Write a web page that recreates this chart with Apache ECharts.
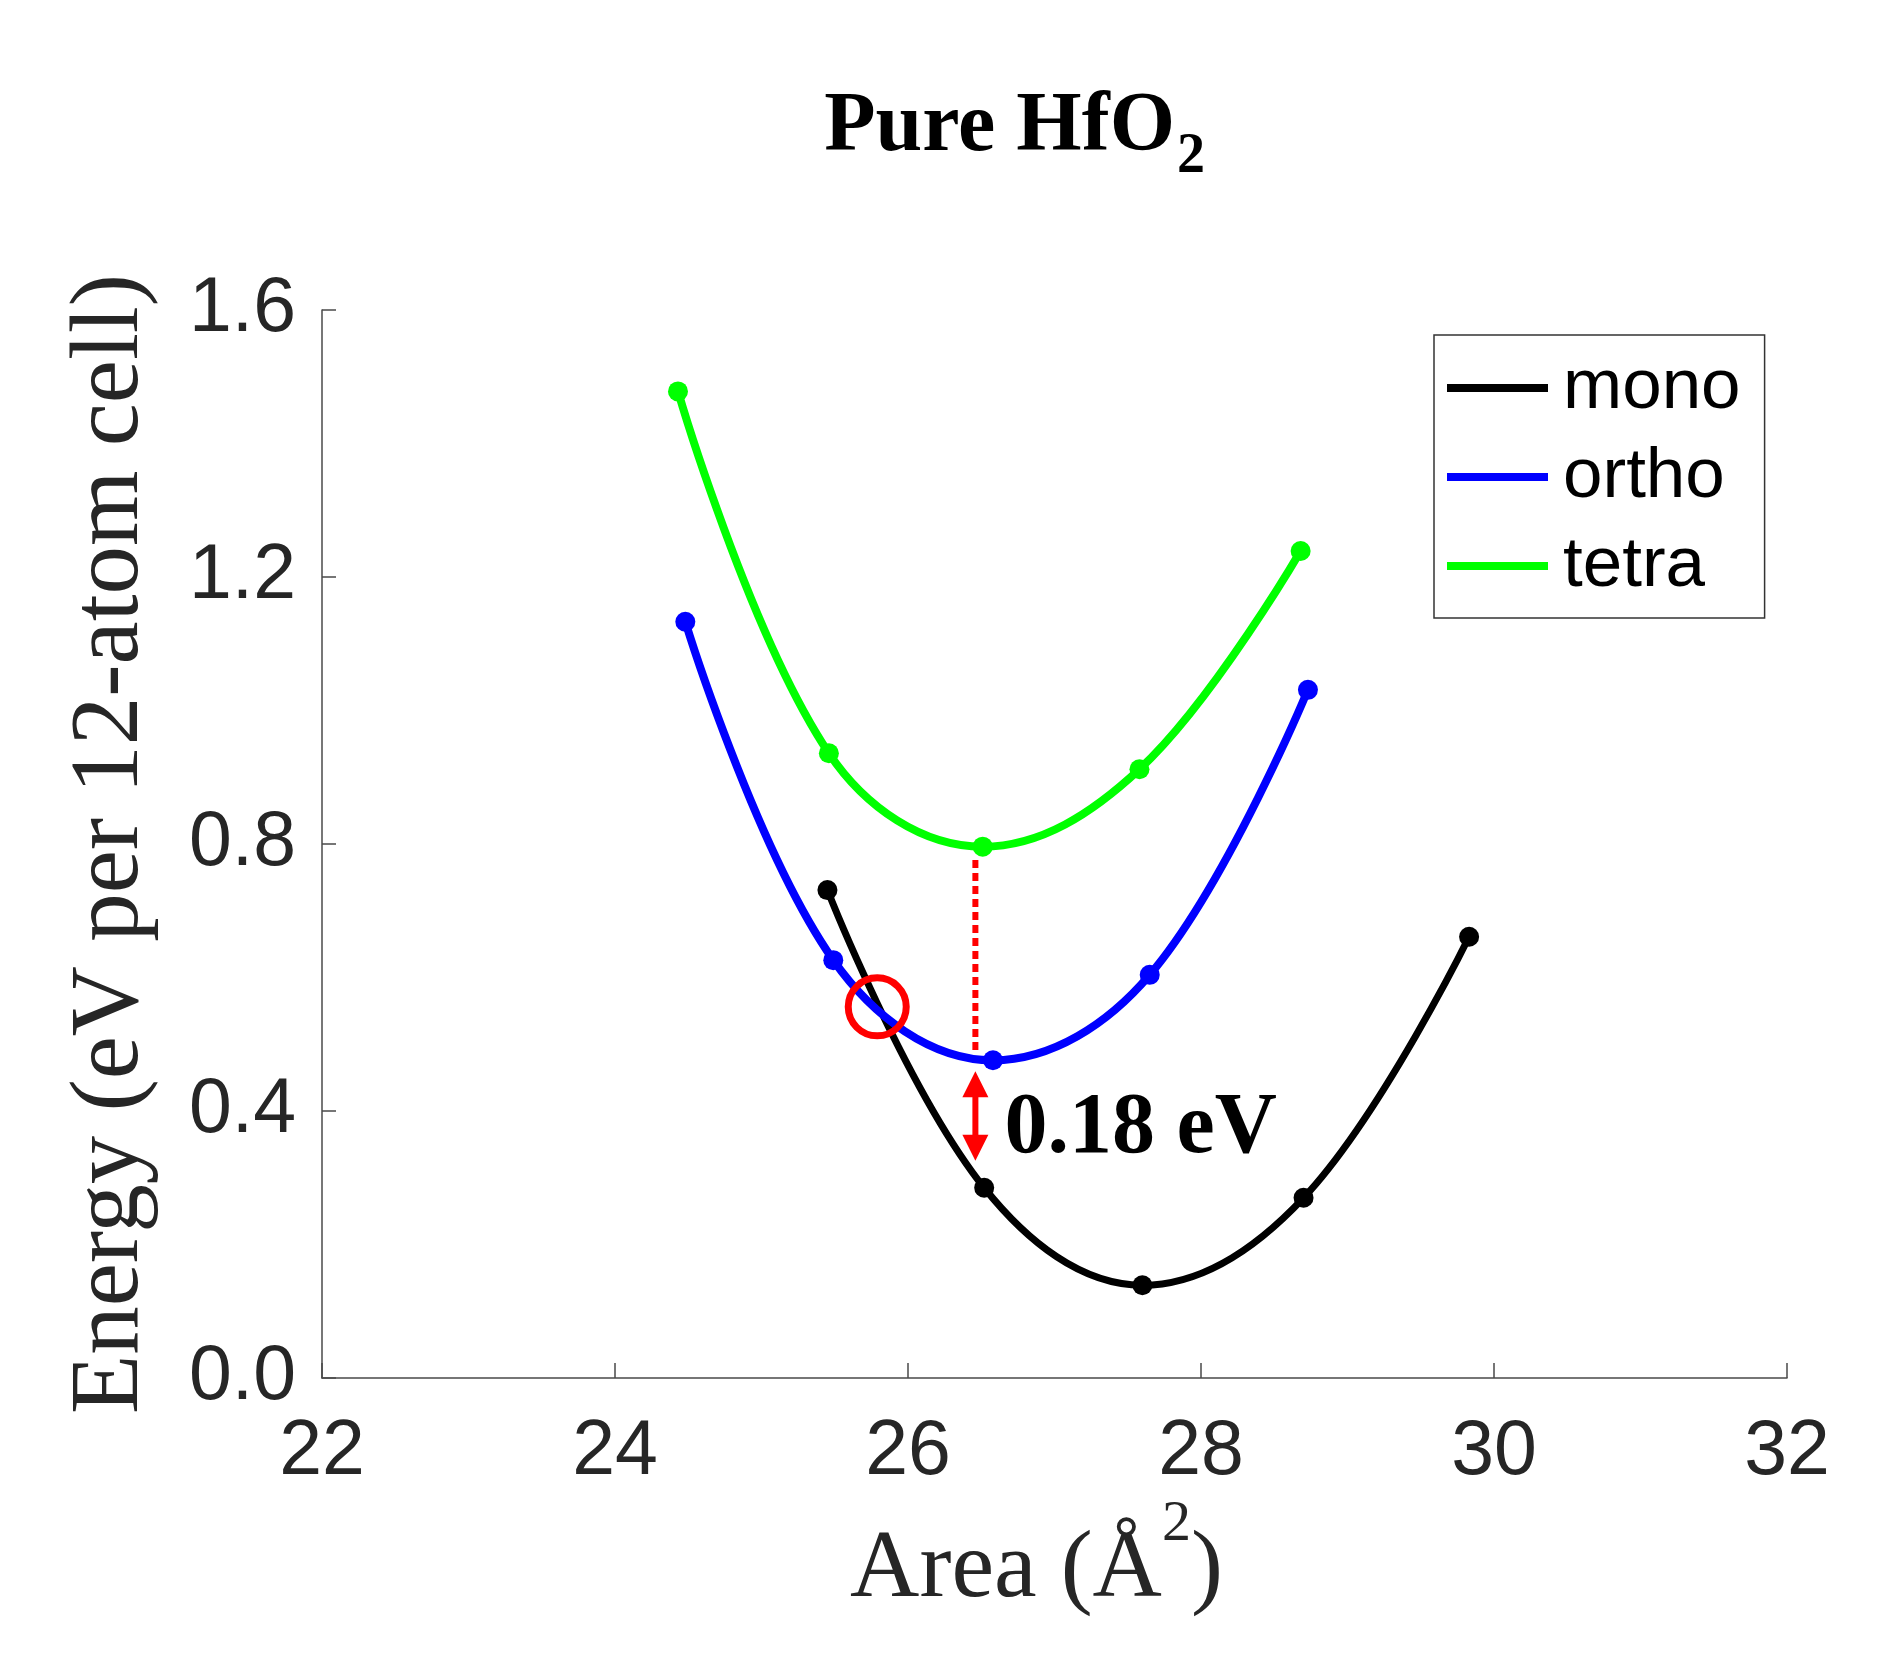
<!DOCTYPE html>
<html>
<head>
<meta charset="utf-8">
<title>Pure HfO2</title>
<script src="https://cdn.jsdelivr.net/npm/echarts@6/dist/echarts.min.js"></script>
<style>
html, body { margin: 0; padding: 0; background: #fff; }
#chart { width: 1896px; height: 1657px; }
</style>
</head>
<body>
<div id="chart"></div>
<script>
// area (A^2) vs energy (eV per 12-atom cell)
var monoArea = [25.45, 26.52, 27.60, 28.70, 29.83];
var monoEnergy = [0.731, 0.285, 0.139, 0.270, 0.661];
var orthoArea = [24.48, 25.49, 26.58, 27.65, 28.73];
var orthoEnergy = [1.133, 0.626, 0.476, 0.604, 1.031];
var tetraArea = [24.43, 25.46, 26.51, 27.58, 28.68];
var tetraEnergy = [1.478, 0.936, 0.796, 0.912, 1.239];

var xTicks = [22, 24, 26, 28, 30, 32];
var yTicks = [0, 0.4, 0.8, 1.2, 1.6];

// annotations
var crossing = [25.79, 0.556];
var gapX = 26.46;
var dottedEnergy = [0.776, 0.491];
var arrowEnergy = [0.440, 0.345];
var gapText = '0.18 eV';
var gapTextAt = [26.655, 0.372];

function pairs(xs, ys) {
  return xs.map(function (x, i) { return [x, ys[i]]; });
}

function curve(name, xs, ys, color, width) {
  return {
    name: name,
    type: 'line',
    data: pairs(xs, ys),
    smooth: 0.38,
    symbol: 'circle',
    symbolSize: 20,
    showAllSymbol: true,
    itemStyle: { color: color },
    lineStyle: { color: color, width: width }
  };
}

var axisGrey = '#4a4a4a';
var textGrey = '#262626';

var myChart = echarts.init(document.getElementById('chart'));

var option = {
  backgroundColor: '#ffffff',
  animation: false,
  graphic: [
    {
      type: 'text', x: 1175, y: 128,
      style: { text: 'Pure HfO', font: 'bold 84px "Liberation Serif"', fill: '#000', align: 'right', verticalAlign: 'middle' }
    },
    {
      type: 'text', x: 1177, y: 158,
      style: { text: '2', font: 'bold 56px "Liberation Serif"', fill: '#000', align: 'left', verticalAlign: 'middle' }
    }
  ],
  legend: {
    data: ['mono', 'ortho', 'tetra'],
    orient: 'vertical',
    left: 1434,
    top: 335,
    padding: [15, 24, 14, 13],
    borderColor: '#333',
    borderWidth: 1.5,
    icon: 'rect',
    itemWidth: 101,
    itemHeight: 8,
    itemGap: 13,
    textStyle: { fontFamily: 'Liberation Sans', fontSize: 71, lineHeight: 70, color: '#000', padding: [6, 0, 0, 10] }
  },
  grid: { left: 322, right: 109, top: 310, bottom: 279, containLabel: false },
  xAxis: {
    type: 'value',
    min: xTicks[0],
    max: xTicks[xTicks.length - 1],
    interval: xTicks[1] - xTicks[0],
    name: '{a|Area (Å}{s|2}{a|)}',
    nameLocation: 'middle',
    nameGap: 116,
    nameTextStyle: {
      padding: [0, 36, 0, 0],
      rich: {
        a: { fontFamily: 'Liberation Serif', fontSize: 96, lineHeight: 150, color: textGrey },
        s: { fontFamily: 'Liberation Serif', fontSize: 58, lineHeight: 58, verticalAlign: 'top', color: textGrey }
      }
    },
    axisLine: { show: true, onZero: false, lineStyle: { color: axisGrey, width: 1.5 } },
    axisTick: { show: true, inside: true, length: 15, lineStyle: { color: axisGrey, width: 1.5 } },
    axisLabel: { fontFamily: 'Liberation Sans', fontSize: 77, color: textGrey, margin: 36, showMinLabel: true, showMaxLabel: true },
    splitLine: { show: false }
  },
  yAxis: {
    type: 'value',
    min: yTicks[0],
    max: yTicks[yTicks.length - 1],
    interval: yTicks[1] - yTicks[0],
    name: 'Energy (eV per 12-atom cell)',
    nameLocation: 'middle',
    nameGap: 162,
    nameTextStyle: { fontFamily: 'Liberation Serif', fontSize: 97, color: textGrey },
    axisLine: { show: true, onZero: false, lineStyle: { color: axisGrey, width: 1.5 } },
    axisTick: { show: true, inside: true, length: 14, lineStyle: { color: axisGrey, width: 1.5 } },
    axisLabel: {
      fontFamily: 'Liberation Sans', fontSize: 77, color: textGrey, margin: 26,
      showMinLabel: true, showMaxLabel: true,
      formatter: function (v) { return v.toFixed(1); }
    },
    splitLine: { show: false }
  },
  series: [
    curve('mono', monoArea, monoEnergy, '#000000', 7),
    curve('ortho', orthoArea, orthoEnergy, '#0000ff', 8),
    curve('tetra', tetraArea, tetraEnergy, '#00ff00', 8),
    {
      name: 'gapDotted',
      type: 'line',
      data: [[gapX, dottedEnergy[0]], [gapX, dottedEnergy[1]]],
      symbol: 'none',
      lineStyle: { color: '#ff0000', width: 6, type: [8, 5] },
      z: 4
    },
    {
      name: 'gapArrow',
      type: 'line',
      data: [
        { value: [gapX, arrowEnergy[0]], symbolRotate: 0 },
        { value: [gapX, arrowEnergy[1]], symbolRotate: 180 }
      ],
      symbol: 'triangle',
      symbolSize: [26, 26],
      itemStyle: { color: '#ff0000' },
      lineStyle: { color: '#ff0000', width: 6 },
      z: 4
    },
    {
      name: 'crossing',
      type: 'scatter',
      data: [crossing],
      symbol: 'circle',
      symbolSize: 58,
      itemStyle: { color: 'rgba(0,0,0,0)', borderColor: '#ff0000', borderWidth: 7, opacity: 1 },
      z: 5
    },
    {
      name: 'gapLabel',
      type: 'scatter',
      data: [gapTextAt],
      symbolSize: 1,
      itemStyle: { color: 'rgba(0,0,0,0)', opacity: 1 },
      label: {
        show: true, position: 'right', distance: 0,
        formatter: gapText,
        fontFamily: 'Liberation Serif', fontWeight: 'bold', fontSize: 86, color: '#000000'
      },
      z: 5
    }
  ]
};

myChart.setOption(option);
</script>
</body>
</html>
